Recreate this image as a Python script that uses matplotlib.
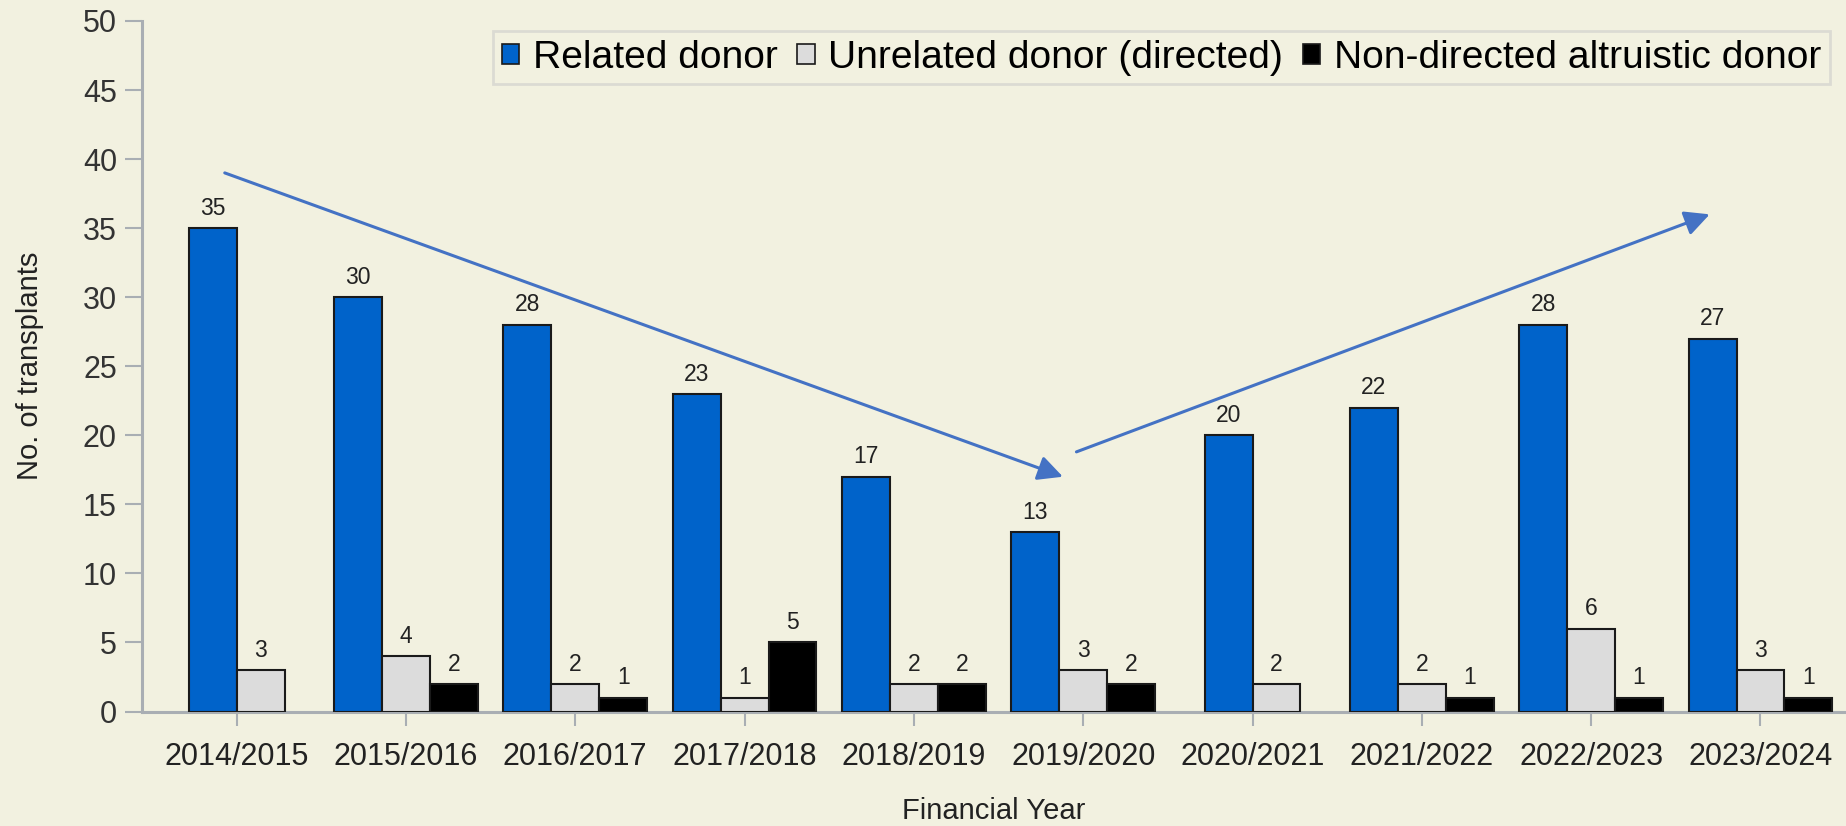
import numpy as np
import matplotlib
matplotlib.use("Agg")
import matplotlib.pyplot as plt
from matplotlib.patches import Patch

plt.rcParams['font.family'] = ['Liberation Sans', 'DejaVu Sans']

years = ['2014/2015', '2015/2016', '2016/2017', '2017/2018', '2018/2019',
         '2019/2020', '2020/2021', '2021/2022', '2022/2023', '2023/2024']
related = [35, 30, 28, 23, 17, 13, 20, 22, 28, 27]
unrelated = [3, 4, 2, 1, 2, 3, 2, 2, 6, 3]
altruistic = [None, 2, 1, 5, 2, 2, None, 1, 1, 1]
series_names = ['Related donor', 'Unrelated donor (directed)', 'Non-directed altruistic donor']
series_cols = ['#0063CA', '#DCDCDC', '#000000']

# trend arrows (data coords)
arrow_down = [(-0.07, 39.0), (4.88, 17.0)]
arrow_up = [(4.96, 18.8), (8.70, 36.0)]

bg = '#F2F1E0'
fig = plt.figure(figsize=(18.46, 8.26), dpi=100, facecolor=bg)
ax = fig.add_axes([0.0769, 0.1386, 0.9231, 0.836])
ax.set_facecolor(bg)

w = 0.283
x = np.arange(len(years))
all_series = [related, unrelated, altruistic]
for i in range(len(years)):
    vals = [(k, s[i]) for k, s in enumerate(all_series) if s[i] is not None]
    n = len(vals)
    for j, (k, v) in enumerate(vals):
        xpos = x[i] + (j - (n - 1) / 2.0) * w
        ax.bar(xpos, v, width=w, color=series_cols[k], edgecolor='#1a1a1a',
               linewidth=1.5, zorder=3)
        ax.annotate(str(v), (xpos, v), xytext=(0, 6), textcoords='offset points',
                    ha='center', va='bottom', fontsize=16.5, color='#222222')

for (x0, y0), (x1, y1) in [arrow_down, arrow_up]:
    ax.annotate('', xy=(x1, y1), xytext=(x0, y0),
                arrowprops=dict(arrowstyle='-|>,head_length=0.5,head_width=0.25',
                                color='#4472C4', lw=2.2, mutation_scale=30,
                                shrinkA=0, shrinkB=0), zorder=5)

ax.set_xlim(-0.559, 9.505)
ax.set_ylim(0, 50)
ax.set_yticks(range(0, 51, 5))
ax.set_xticks(x)
ax.set_xticklabels(years)
for s in ['top', 'right']:
    ax.spines[s].set_visible(False)
for s in ['left', 'bottom']:
    ax.spines[s].set_color('#A9AEB3')
    ax.spines[s].set_linewidth(2.2)
ax.tick_params(axis='y', length=12, width=1.5, color='#A9AEB3', labelsize=22,
               labelcolor='#333333', pad=6)
ax.tick_params(axis='x', length=10, width=1.5, color='#A9AEB3', labelsize=22,
               labelcolor='#222222', pad=12)
ax.set_xlabel('Financial Year', fontsize=21, color='#222222', labelpad=18)
ax.set_ylabel('No. of transplants', fontsize=21, color='#222222', labelpad=28)

handles = [Patch(facecolor=c, edgecolor='#1a1a1a', linewidth=1.2) for c in series_cols]
leg = fig.legend(handles, series_names, loc='upper left', ncol=3,
                 bbox_to_anchor=(493 / 1846, 1 - 31 / 826), fontsize=28.1,
                 frameon=True, fancybox=False, handlelength=0.45, handleheight=0.42,
                 handletextpad=0.35, columnspacing=0.5, borderpad=0.22,
                 borderaxespad=0)
leg.get_frame().set_facecolor(bg)
leg.get_frame().set_edgecolor('#D6D6D0')
leg.get_frame().set_linewidth(2)

fig.savefig('out.png', dpi=100, facecolor=bg)
